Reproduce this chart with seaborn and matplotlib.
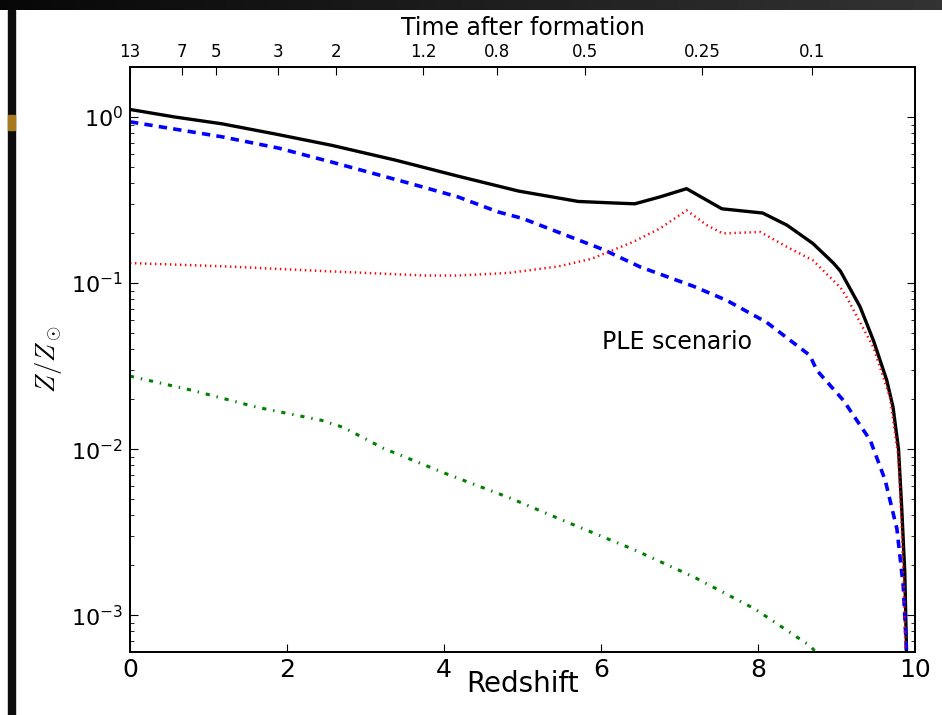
import matplotlib
matplotlib.use('Agg')
import matplotlib.pyplot as plt
from matplotlib.patches import Rectangle
import numpy as np
import seaborn as sns

# redshift / metallicity values (PLE scenario)
z_total = [0.0, 0.57, 1.17, 1.85, 2.57, 3.38, 4.18, 4.95, 5.71, 6.05, 6.43, 6.75, 7.09, 7.54,
           8.06, 8.37, 8.70, 8.96, 9.05, 9.30, 9.47, 9.64, 9.72, 9.79, 9.83, 9.87, 9.89, 9.90]
total = [1.11, 1.0, 0.91, 0.79, 0.675, 0.55, 0.44, 0.358, 0.31, 0.305, 0.30, 0.33, 0.37, 0.28,
         0.264, 0.223, 0.173, 0.132, 0.118, 0.072, 0.0452, 0.026, 0.0179, 0.010, 0.0045, 0.0018,
         0.00067, 1e-5]

z_blue = [0.0, 1.17, 1.89, 2.57, 3.55, 4.18, 4.69, 5.0, 6.03, 6.5, 7.18, 7.6, 8.11, 8.66, 8.75,
          9.09, 9.43, 9.62, 9.77, 9.85, 9.89, 9.90]
blue = [0.935, 0.76, 0.65, 0.535, 0.40, 0.33, 0.268, 0.245, 0.159, 0.125, 0.0955, 0.0787, 0.058,
        0.0367, 0.0298, 0.0196, 0.0113, 0.0065, 0.0033, 0.0015, 0.00064, 1e-5]

z_red = [0.0, 1.21, 2.48, 3.76, 4.18, 4.82, 5.46, 5.88, 6.41, 6.75, 7.09, 7.35, 7.55, 8.03, 8.37,
         8.70, 9.05, 9.13, 9.47, 9.68, 9.79, 9.83, 9.86, 9.875, 9.885]
red = [0.132, 0.126, 0.118, 0.111, 0.111, 0.115, 0.126, 0.140, 0.177, 0.213, 0.274, 0.223, 0.199,
       0.203, 0.165, 0.137, 0.094, 0.082, 0.041, 0.0206, 0.0089, 0.0035, 0.0014, 0.0007, 1e-5]

z_green = [0.0, 0.79, 1.61, 2.44, 2.72, 3.23, 4.03, 4.83, 5.62, 6.42, 7.19, 7.96, 8.67, 8.72]
green = [0.0275, 0.0226, 0.0179, 0.0149, 0.0135, 0.0101, 0.0071, 0.0051, 0.00355, 0.00248,
         0.00169, 0.00109, 0.00065, 0.00061]

# top axis: time after formation (Gyr) at these redshifts
top_pos = [0.0, 0.665, 1.10, 1.88, 2.63, 3.735, 4.67, 5.80, 7.29, 8.69]
top_labels = ['13', '7', '5', '3', '2', '1.2', '0.8', '0.5', '0.25', '0.1']

sns.set_style('ticks')
plt.rcParams['lines.scale_dashes'] = False
plt.rcParams['font.family'] = ['DejaVu Sans']
for key in ['text.color', 'axes.labelcolor', 'xtick.color', 'ytick.color', 'axes.edgecolor']:
    plt.rcParams[key] = 'black'

fig = plt.figure(figsize=(9.42, 7.15), dpi=100)
fig.patch.set_facecolor('white')

# screenshot frame: dark band on top, black bar on the left
band = fig.add_axes([0, 1 - 10 / 715, 1, 10 / 715])
band.imshow(np.linspace(0.03, 0.2, 200)[None, :], cmap='gray', vmin=0, vmax=1, aspect='auto')
band.axis('off')
fig.patches.append(Rectangle((8 / 942, 0), 7 / 942, 1 - 10 / 715, transform=fig.transFigure,
                             color='#0c0c0c', zorder=0))
fig.patches.append(Rectangle((8 / 942, 1 - 130 / 715), 7 / 942, 15 / 715, transform=fig.transFigure,
                             color='#a87a1e', zorder=1))

ax = fig.add_axes([130 / 942, 63 / 715, 785 / 942, 585 / 715])

sns.lineplot(x=z_total, y=total, ax=ax, color='k', lw=2.4, sort=False, estimator=None)
sns.lineplot(x=z_blue, y=blue, ax=ax, color='b', lw=2.6, sort=False, estimator=None,
             linestyle=(0, (6, 4.5)))
sns.lineplot(x=z_red, y=red, ax=ax, color='r', lw=1.8, sort=False, estimator=None,
             linestyle=(0, (1, 2.6)))
sns.lineplot(x=z_green, y=green, ax=ax, color='g', lw=2.2, sort=False, estimator=None,
             linestyle=(0, (3, 5, 1, 5)))

ax.set_yscale('log')
ax.set_xlim(0, 10)
ax.set_ylim(6e-4, 2.0)
ax.set_xticks([0, 2, 4, 6, 8, 10])
ax.tick_params(axis='x', which='major', direction='in', length=5.5, labelsize=18, pad=4, top=False)
ax.tick_params(axis='y', which='major', direction='in', length=5.5, labelsize=16, pad=5, right=True)
ax.tick_params(axis='y', which='minor', direction='in', length=3, right=True)
for sp in ax.spines.values():
    sp.set_linewidth(1.3)

ax.set_xlabel('Redshift', fontsize=20)
ax.xaxis.set_label_coords(0.5, -0.03)
ax.set_ylabel(r'$Z/Z_\odot$', fontsize=19, math_fontfamily='cm', labelpad=5)

ax.text(6.01, 0.0439, 'PLE scenario', fontsize=17, ha='left', va='center')

ax2 = ax.twiny()
ax2.set_xlim(0, 10)
ax2.set_xticks(top_pos)
ax2.set_xticklabels(top_labels)
ax2.tick_params(axis='x', direction='in', length=6, labelsize=12, pad=4)
ax2.set_xlabel('Time after formation', fontsize=17, labelpad=6)
for sp in ax2.spines.values():
    sp.set_linewidth(1.3)

fig.savefig('out.png', dpi=100)
